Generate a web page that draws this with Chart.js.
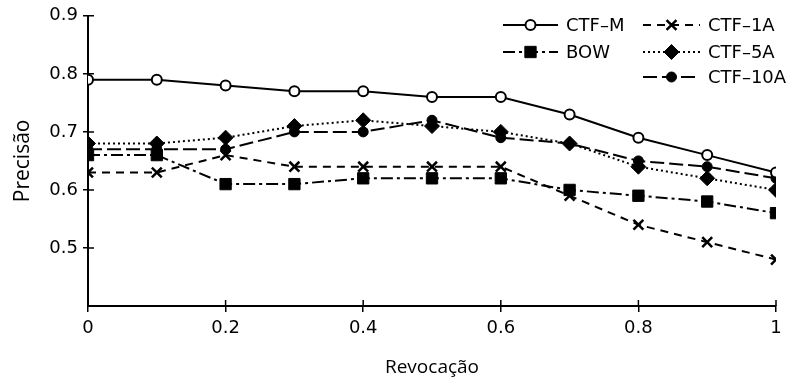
<!DOCTYPE html>
<html>
<head>
<meta charset="utf-8">
<script src="https://cdn.jsdelivr.net/npm/chart.js@4.4.0/dist/chart.umd.min.js"></script>
<style>
  html, body { margin: 0; padding: 0; background: #fff; }
  #wrap { width: 790px; height: 383px; }
</style>
</head>
<body>
<div id="wrap"><canvas id="chart" width="790" height="383"></canvas></div>
<script>
const recall = [0, 0.1, 0.2, 0.3, 0.4, 0.5, 0.6, 0.7, 0.8, 0.9, 1];
const ctfM   = [0.79, 0.79, 0.78, 0.77, 0.77, 0.76, 0.76, 0.73, 0.69, 0.66, 0.63];
const ctf1A  = [0.63, 0.63, 0.66, 0.64, 0.64, 0.64, 0.64, 0.59, 0.54, 0.51, 0.48];
const bow    = [0.66, 0.66, 0.61, 0.61, 0.62, 0.62, 0.62, 0.60, 0.59, 0.58, 0.56];
const ctf5A  = [0.68, 0.68, 0.69, 0.71, 0.72, 0.71, 0.70, 0.68, 0.64, 0.62, 0.60];
const ctf10A = [0.67, 0.67, 0.67, 0.70, 0.70, 0.72, 0.69, 0.68, 0.65, 0.64, 0.62];
const xTicks = [0, 0.2, 0.4, 0.6, 0.8, 1];
const yTicks = [0.5, 0.6, 0.7, 0.8, 0.9];

const FONT = '"DejaVu Sans", sans-serif';
const TITLE_FONT = '"Open Sans", sans-serif';

function pts(ys) {
  return recall.map((x, i) => ({ x: x, y: ys[i] }));
}

function series(label, ys, style, radius, fill, dash, pbw) {
  return {
    label,
    data: pts(ys),
    borderColor: '#000',
    borderWidth: 2,
    borderDash: dash,
    pointStyle: style,
    pointRadius: radius,
    pointHoverRadius: radius,
    pointBackgroundColor: fill,
    pointBorderColor: '#000',
    pointBorderWidth: pbw,
    tension: 0,
    fill: false
  };
}

const datasets = [
  series('CTF\u2013M', ctfM, 'circle', 5, '#fff', [], 2),
  series('CTF\u20131A', ctf1A, 'crossRot', 7, '#000', [8, 6], 2.5),
  series('BOW', bow, 'rect', 8, '#000', [12, 4, 3, 4], 1),
  series('CTF\u20135A', ctf5A, 'rectRot', 7.5, '#000', [2, 3], 1),
  series('CTF\u201310A', ctf10A, 'circle', 5, '#000', [14, 5], 1)
];

// legend spots: [dataset index, x of line start, line length, y]
const legendSpots = [[0, 503, 55, 25], [1, 643, 57, 25], [2, 503, 55, 52], [3, 643, 57, 52], [4, 643, 57, 77]];

const crossTicks = {
  id: 'crossTicks',
  afterDraw(chart) {
    const c = chart.ctx, a = chart.chartArea;
    const xs = chart.scales.x, ys = chart.scales.y;
    c.save();
    c.strokeStyle = '#000';
    c.lineWidth = 1.5;
    c.beginPath();
    xTicks.forEach(v => {
      const px = xs.getPixelForValue(v);
      c.moveTo(px, a.bottom);
      c.lineTo(px, a.bottom - 6);
    });
    yTicks.forEach(v => {
      const py = ys.getPixelForValue(v);
      c.moveTo(a.left, py);
      c.lineTo(a.left + 6, py);
    });
    c.stroke();

    // legend
    c.font = '18px ' + FONT;
    c.textBaseline = 'middle';
    legendSpots.forEach(([i, x0, len, y]) => {
      const ds = chart.data.datasets[i];
      c.save();
      c.lineWidth = 2;
      c.strokeStyle = '#000';
      c.setLineDash(ds.borderDash);
      c.beginPath();
      c.moveTo(x0, y);
      c.lineTo(x0 + len, y);
      c.stroke();
      c.setLineDash([]);
      c.fillStyle = ds.pointBackgroundColor;
      c.lineWidth = ds.pointBorderWidth;
      Chart.helpers.drawPoint(c, { pointStyle: ds.pointStyle, radius: ds.pointRadius, borderWidth: ds.pointBorderWidth }, x0 + len / 2, y);
      c.fillStyle = '#000';
      c.fillText(ds.label, x0 + len + 8, y + 1);
      c.restore();
    });
    c.restore();
  }
};

new Chart(document.getElementById('chart'), {
  type: 'line',
  data: { datasets },
  options: {
    responsive: false,
    animation: false,
    layout: { padding: { top: 13, right: 14, left: 10, bottom: 0 } },
    plugins: { legend: { display: false }, tooltip: { enabled: false } },
    scales: {
      x: {
        type: 'linear',
        min: 0,
        max: 1,
        afterBuildTicks(s) { s.ticks = xTicks.map(v => ({ value: v })); },
        afterFit(s) { s.height = 77; },
        border: { color: '#000', width: 2 },
        grid: { drawOnChartArea: false, drawTicks: true, tickLength: 6, color: '#000', lineWidth: 1.5 },
        ticks: {
          color: '#000',
          font: { family: FONT, size: 18 },
          padding: 6,
          maxRotation: 0,
          callback: v => String(Math.round(v * 10) / 10)
        },
        title: {
          display: true,
          text: 'Revocação',
          color: '#000',
          font: { family: TITLE_FONT, size: 19 },
          padding: { top: 10, bottom: 4 }
        }
      },
      y: {
        min: 0.4,
        max: 0.9,
        afterBuildTicks(s) { s.ticks = yTicks.map(v => ({ value: v })); },
        afterFit(s) { s.width = 78; },
        border: { color: '#000', width: 2 },
        grid: { drawOnChartArea: false, drawTicks: true, tickLength: 5, color: '#000', lineWidth: 1.5 },
        ticks: {
          color: '#000',
          font: { family: FONT, size: 18 },
          padding: 5,
          callback: v => (Math.round(v * 10) / 10).toFixed(1)
        },
        title: {
          display: true,
          text: 'Precisão',
          color: '#000',
          font: { family: TITLE_FONT, size: 21 },
          padding: { top: 0, bottom: 0 }
        }
      }
    }
  },
  plugins: [crossTicks]
});
</script>
</body>
</html>
